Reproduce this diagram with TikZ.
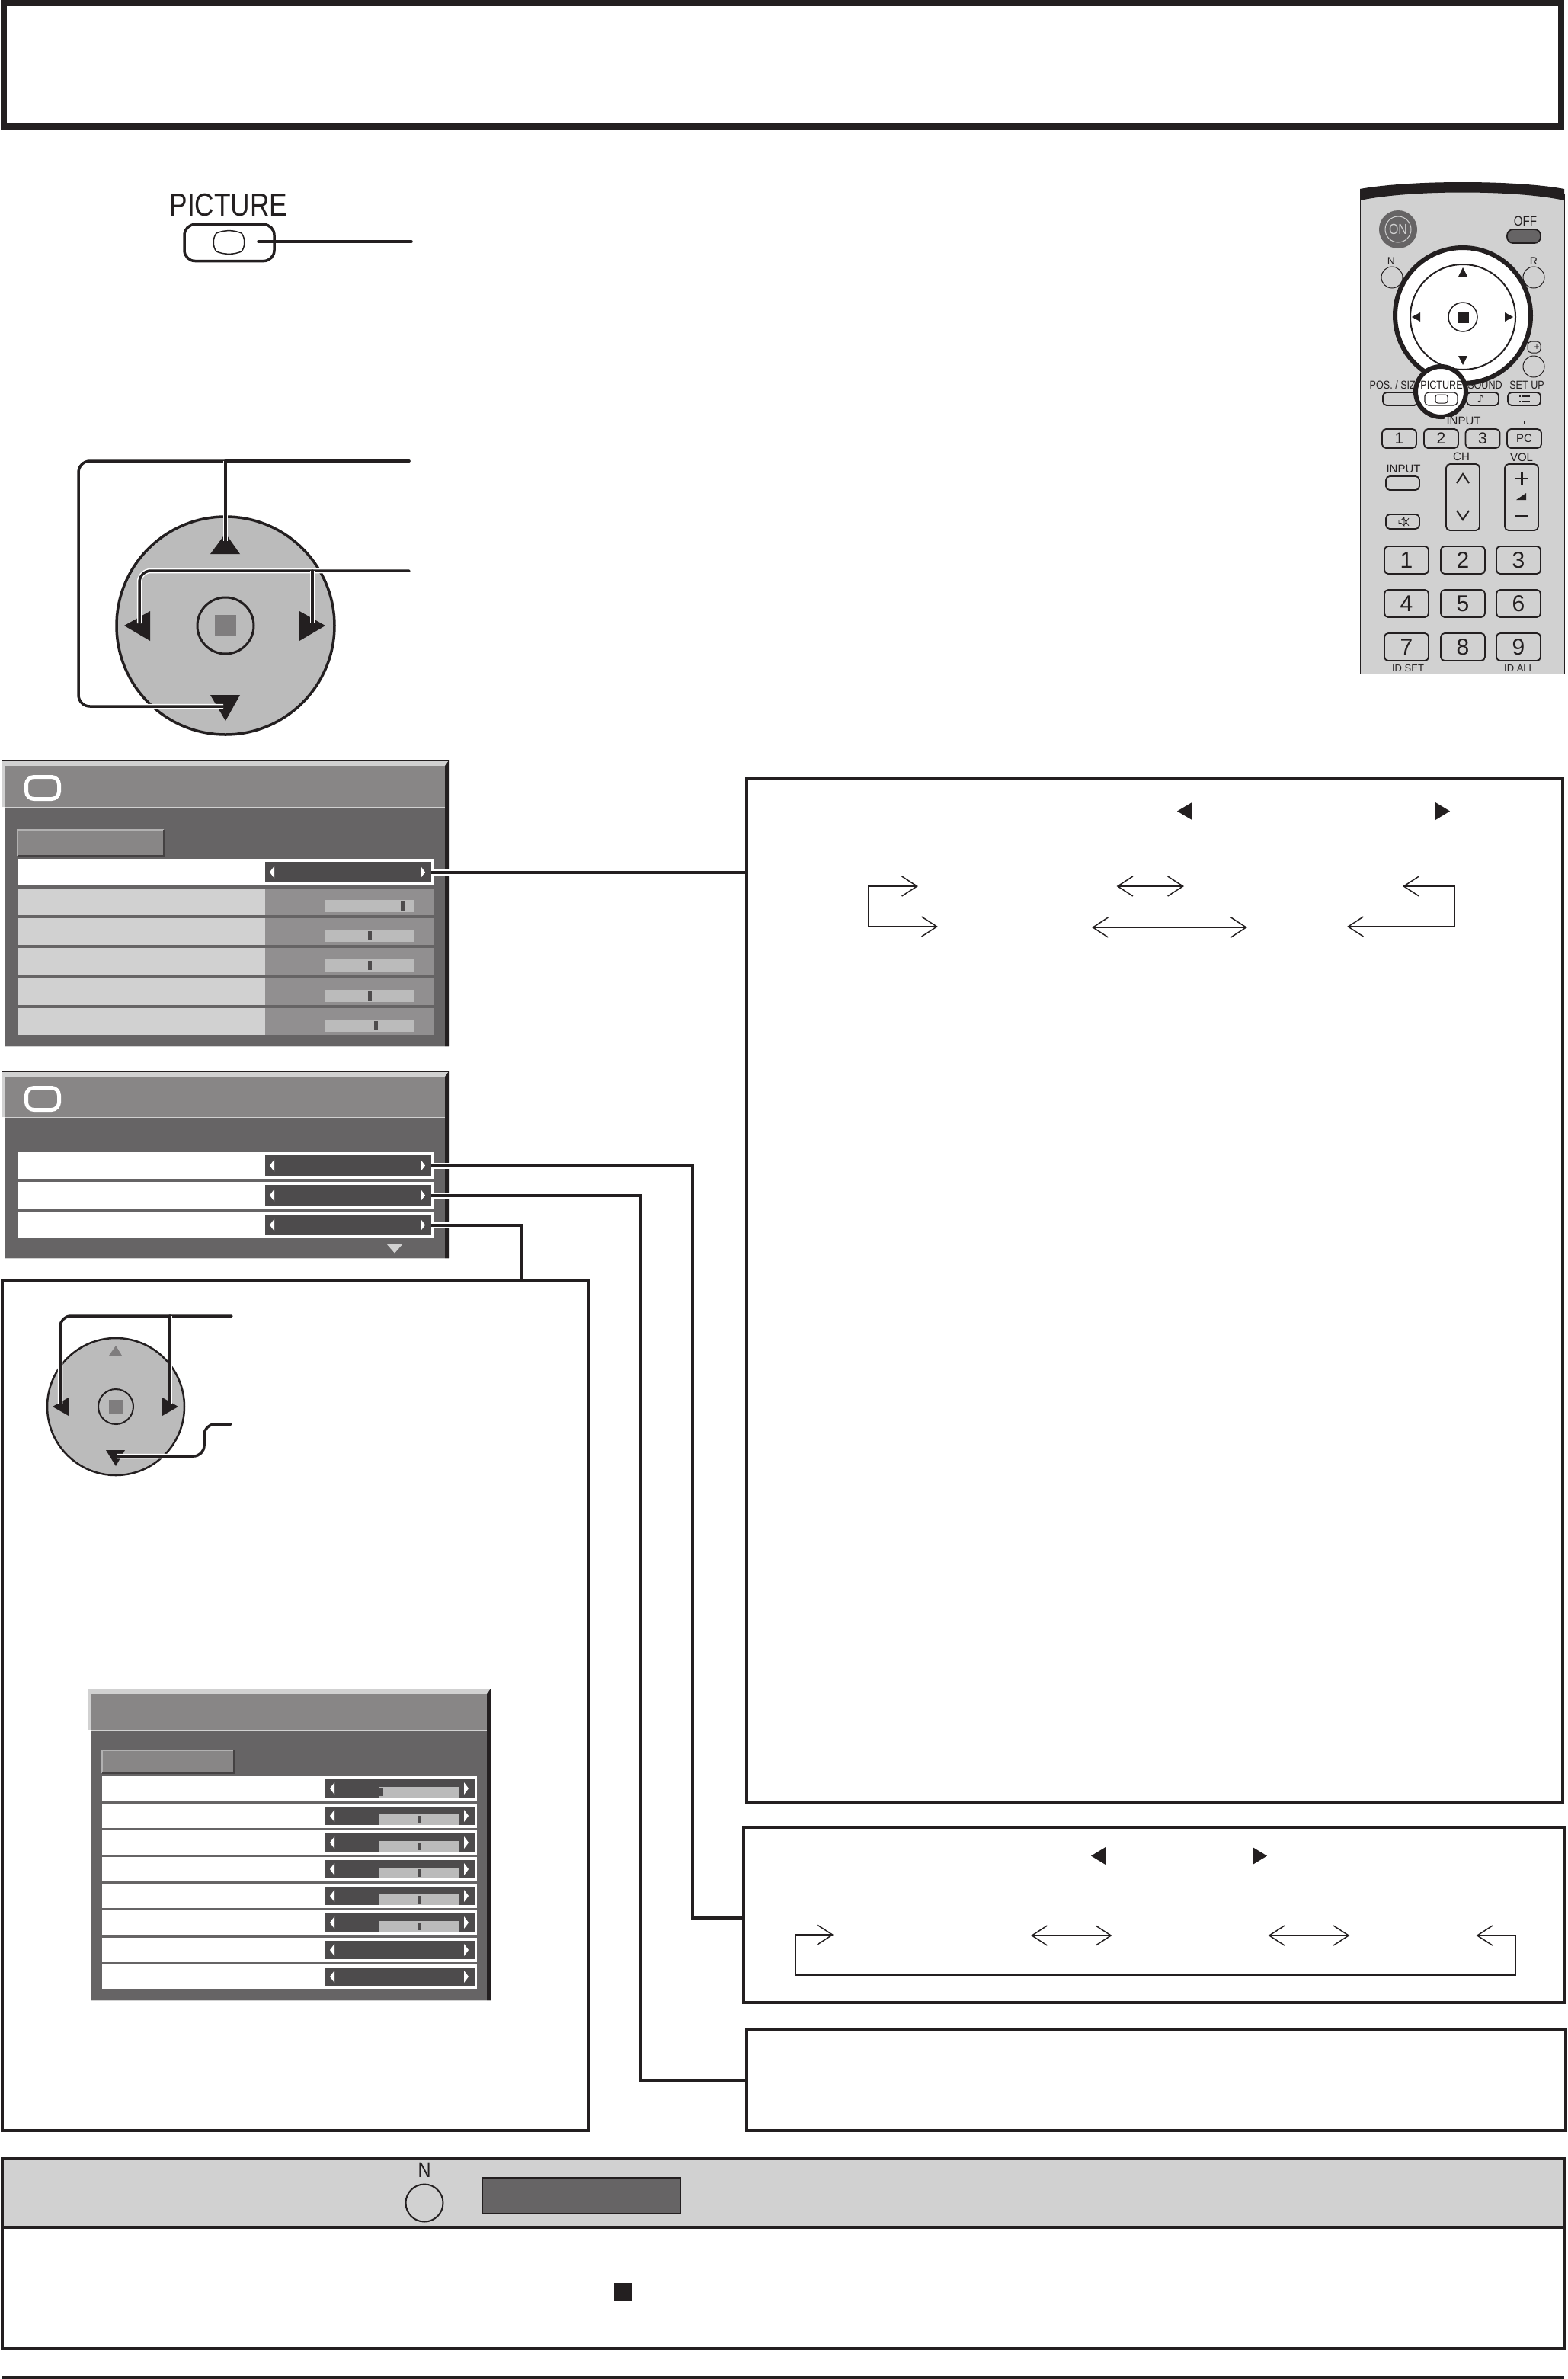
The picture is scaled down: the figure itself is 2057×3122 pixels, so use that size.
\documentclass[tikz,border=0pt]{standalone}
\usepackage{fontspec}
\usepackage{xcolor}
\usetikzlibrary{arrows.meta}
\setmainfont{Liberation Sans}
\newfontfamily\narrowfont[FakeStretch=0.84]{Liberation Sans}
\newfontfamily\symbolfont{DejaVu Sans}
\definecolor{ink}{HTML}{231F20}
\definecolor{panelgrey}{HTML}{D1D1D1}
\definecolor{padgrey}{HTML}{BBBBBB}
\definecolor{titlegrey}{HTML}{888686}
\definecolor{bodygrey}{HTML}{666465}
\definecolor{keydark}{HTML}{4D4B4C}
\definecolor{dimgrey}{HTML}{918F90}
\definecolor{markgrey}{HTML}{7F7D7E}
\tikzset{
  framebox/.style={draw=ink, line width=2pt, inner sep=0pt, outer sep=0pt},
  titlebox/.style={draw=ink, line width=4pt, inner sep=0pt, outer sep=0pt},
  valuebox/.style={fill=keydark, inner sep=0pt, outer sep=0pt},
  wire/.style={draw=ink, line width=2pt, preaction={draw=white, line width=4pt}},
  padwire/.style={draw=ink, line width=1.75pt, line cap=round, preaction={draw=white, line width=3.25pt}},
  flowboth/.style={draw=ink, line width=1pt, {Straight Barb[length=10pt,width=13pt,line width=.75pt]}-{Straight Barb[length=10pt,width=13pt,line width=.75pt]}},
  keybtn/.style={draw=ink, line width=.9pt, rounded corners=2.5pt, fill=panelgrey, inner sep=0pt, outer sep=0pt},
  remotetxt/.style={inner sep=0pt, text=ink, font=\fontsize{7.5}{7.5}\selectfont},
  narrowtxt/.style={inner sep=0pt, text=ink, font=\narrowfont\fontsize{7.5}{7.5}\selectfont}
}
% left, right, top, title bottom, bottom
\newcommand{\menuframe}[5]{
  \fill[bodygrey] (#1+5,#4) rectangle (#2-5,#5);
  \fill[titlegrey] (#1+5,#3+7) rectangle (#2-5,#4);
  \fill[panelgrey] (#1,#3) rectangle (#2,#3+7);
  \fill[panelgrey] (#1,#3) rectangle (#1+5,#4);
  \draw[panelgrey, line width=.4pt] (#1+5,#4) -- (#2-5,#4);
  \draw[panelgrey, line width=.4pt] (#1+5,#5) -- (#2,#5);
  \fill[ink] (#2-5,#3+7) -- (#2,#3) -- (#2,#5) -- (#2-5,#5) -- cycle;
  \draw[ink, line width=.5pt] (#1,#5) -- (#1,#3) -- (#2,#3);
}
\newcommand{\menutab}[4]{
  \fill[titlegrey] (#1,#3) rectangle (#2,#4);
  \draw[markgrey!60!white, line width=1pt] (#1,#4) -- (#1,#3) -- (#2,#3);
  \draw[ink!85, line width=1pt] (#1,#4) -- (#2,#4) -- (#2,#3);
}
\newcommand{\menuicon}[1]{
  \draw[white, line width=2.5pt, rounded corners=5pt, fill=titlegrey] (34.5,#1+2.5) rectangle (77.5,#1+31.5);
}
% name, left, right, top, bottom
\newcommand{\valuekey}[5]{
  \node[valuebox, minimum width={((#3)-(#2))*.5pt}, minimum height={((#5)-(#4))*.5pt}] (#1) at ({(#2+#3)/2},{(#4+#5)/2}) {};
  \fill[white] (#2+12,{(#4+#5)/2-8}) -- (#2+6,{(#4+#5)/2}) -- (#2+12,{(#4+#5)/2+8}) -- cycle;
  \fill[white] (#3-14,{(#4+#5)/2-8}) -- (#3-8,{(#4+#5)/2}) -- (#3-14,{(#4+#5)/2+8}) -- cycle;
}
\begin{document}
\begin{tikzpicture}[x=.5pt, y=-.5pt]
\useasboundingbox (0,0) rectangle (2057,3122);
\fill[white] (0,0) rectangle (2057,3122);

% title
\node[titlebox, minimum width=1022pt, minimum height=81pt] (titlefrm) at (1027,85) {};

% picture button
\node[remotetxt, font=\narrowfont\fontsize{21}{21}\selectfont] (piclabel) at (300,269) {PICTURE};
\node[draw=ink, line width=1.75pt, rounded corners=7pt, minimum width=59pt, minimum height=24pt, inner sep=0pt, outer sep=0pt] (picbtn) at (301,318.5) {};
\draw[ink, line width=.75pt] (284,306) .. controls (295,301.5) and (306,301.5) .. (317,306) .. controls (322,312) and (322,324) .. (317,330) .. controls (306,334.5) and (295,334.5) .. (284,330) .. controls (279,324) and (279,312) .. (284,306) -- cycle;
\coordinate (picin) at (339,317);
\coordinate (picout) at (540,317);
\draw[ink, line width=1.75pt, line cap=round] (picin) -- (picout);

% big cursor pad
\node[circle, draw=ink, fill=padgrey, line width=1.75pt, minimum size=143pt, inner sep=0pt, outer sep=0pt] (bigpad) at (296,821) {};
\fill[ink] (296,700) -- (315,727) -- (276,727) -- cycle;
\fill[ink] (296,946) -- (315,912) -- (276,912) -- cycle;
\fill[ink] (163,821) -- (197,802) -- (197,841) -- cycle;
\fill[ink] (427,821) -- (393,802) -- (393,841) -- cycle;
\node[circle, draw=ink, line width=1.5pt, minimum size=37pt, inner sep=0pt] (bigok) at (296,821) {};
\node[fill=markgrey, minimum size=14pt, inner sep=0pt] (bigmark) at (296,821) {};
\coordinate (updown) at (537,605);
\coordinate (sides) at (537,749);
\coordinate (bigup) at (296,710);
\coordinate (bigdown) at (293,927);
\coordinate (bigleft) at (183,818);
\coordinate (bigright) at (410,818);
\draw[padwire, rounded corners=7.5pt] (updown) -- (103,605) -- (103,927) -- (bigdown);
\draw[padwire] (296,605) -- (bigup);
\draw[padwire, rounded corners=7.5pt] (sides) -- (183,749) -- (bigleft);
\draw[padwire] (410,749) -- (bigright);
\draw[ink, line width=1.75pt, line cap=round] (updown) -- (296,605);

% remote
\fill[panelgrey] (1785,262) .. controls (1850,246) and (1990,246) .. (2053,262) -- (2053,884) -- (1785,884) -- cycle;
\fill[ink] (1785,263) -- (1785,248) .. controls (1850,236) and (1990,236) .. (2053,248) -- (2053,263) .. controls (1990,249) and (1850,249) .. (1785,263) -- cycle;
\draw[ink, line width=.5pt] (1785,255) -- (1785,884);
\draw[ink, line width=.5pt] (2053,255) -- (2053,884);
\node[circle, fill=bodygrey, minimum size=25pt, inner sep=0pt] (onbtn) at (1835,301) {};
\node[circle, draw=panelgrey, line width=.5pt, minimum size=17pt, inner sep=0pt] (onring) at (1835,301) {};
\node[text=panelgrey, inner sep=0pt, font=\narrowfont\fontsize{9.5}{9.5}\selectfont] (onlabel) at (1835,301) {ON};
\node[narrowtxt, font=\narrowfont\fontsize{9}{9}\selectfont] (offlabel) at (2002,290) {OFF};
\node[keybtn, fill=bodygrey, rounded corners=4pt, minimum width=22pt, minimum height=9pt] (offbtn) at (2000,310) {};
\node[remotetxt, font=\fontsize{7}{7}\selectfont] (nlabel) at (1826,343) {N};
\node[remotetxt, font=\fontsize{7}{7}\selectfont] (rlabel) at (2013,343) {R};
\node[circle, draw=ink, line width=.5pt, minimum size=14pt, inner sep=0pt] (nbtn) at (1827,364) {};
\node[circle, draw=ink, line width=.5pt, minimum size=14pt, inner sep=0pt] (rbtn) at (2013,364) {};
\node[keybtn, line width=.5pt, minimum width=8.5pt, minimum height=7.5pt] (plusbtn) at (2013.5,455.5) {};
\node[remotetxt, font=\fontsize{6}{6}\selectfont] (pluslabel) at (2017,456) {+};
\node[circle, draw=ink, line width=.5pt, minimum size=14pt, inner sep=0pt] (plusround) at (2013,481) {};

\node[circle, draw=ink, fill=white, line width=3pt, minimum size=89pt, inner sep=0pt] (ring) at (1920,414) {};
\node[circle, draw=ink, line width=1pt, minimum size=69pt, inner sep=0pt] (ringin) at (1920,416) {};
\node[circle, draw=ink, line width=.75pt, minimum size=19pt, inner sep=0pt] (ringok) at (1920,416) {};
\node[fill=ink, minimum size=7.5pt, inner sep=0pt] (ringmark) at (1920,416) {};
\fill[ink] (1920,351) -- (1926,363) -- (1914,363) -- cycle;
\fill[ink] (1920,479) -- (1926,467) -- (1914,467) -- cycle;
\fill[ink] (1853,416) -- (1864,410) -- (1864,422) -- cycle;
\fill[ink] (1986,416) -- (1975,410) -- (1975,422) -- cycle;

\node[narrowtxt] (poslabel) at (1832,505) {POS. / SIZE};
\node[narrowtxt] (soundlabel) at (1949,505) {SOUND};
\node[narrowtxt] (setuplabel) at (2004,505) {SET UP};
\node[keybtn, minimum width=23pt, minimum height=8.5pt] (posbtn) at (1838,523.5) {};
\node[keybtn, minimum width=21pt, minimum height=8.5pt] (soundbtn) at (1946,523.5) {};
\node[keybtn, minimum width=21.5pt, minimum height=8.5pt] (setupbtn) at (2000.5,523.5) {};
\node[text=ink, inner sep=0pt, font=\symbolfont\fontsize{7}{7}\selectfont] (notelabel) at (1943,523) {♪};
\foreach \y in {520,523.5,527} {
  \draw[ink, line width=.6pt] (1994,\y) -- (1996,\y);
  \draw[ink, line width=.6pt] (1998,\y) -- (2008,\y);
}
\node[circle, draw=ink, fill=white, line width=3pt, minimum size=33pt, inner sep=0pt] (picring) at (1891,514) {};
\node[narrowtxt] (picsmall) at (1892,505) {PICTURE};
\node[keybtn, fill=white, line width=.6pt, minimum width=21.5pt, minimum height=8.5pt] (picsmallbtn) at (1891.5,523.5) {};
\node[draw=ink, line width=.5pt, rounded corners=1.5pt, minimum width=8pt, minimum height=5.5pt, inner sep=0pt] (picsmallin) at (1892,523.5) {};

\node[remotetxt, fill=panelgrey, inner xsep=1pt] (inputhead) at (1921,552) {INPUT};
\draw[ink, line width=.4pt] (inputhead.west) -- (1837,552) -- (1837,556);
\draw[ink, line width=.4pt] (inputhead.east) -- (2000,552) -- (2000,556);
\foreach \lab/\x in {1/1836.5,2/1891.5,3/1946} {
  \node[keybtn, minimum width=22.5pt, minimum height=12.5pt, font=\fontsize{10.5}{10.5}\selectfont, text=ink] (inp\lab) at (\x,575.5) {\lab};
}
\node[keybtn, minimum width=22.5pt, minimum height=12.5pt, font=\fontsize{7.5}{7.5}\selectfont, text=ink] (inppc) at (2000.5,575.5) {PC};
\node[remotetxt] (chlabel) at (1918,599) {CH};
\node[remotetxt] (vollabel) at (1997,600) {VOL};
\node[keybtn, minimum width=22pt, minimum height=43.5pt] (chbtn) at (1920,652.5) {};
\node[keybtn, minimum width=22pt, minimum height=43.5pt] (volbtn) at (1997,652.5) {};
\draw[ink, line width=1pt] (1912,634) -- (1920,622) -- (1928,634);
\draw[ink, line width=1pt] (1912,670) -- (1920,682) -- (1928,670);
\draw[ink, line width=1.25pt] (1989,628) -- (2006,628);
\draw[ink, line width=1.25pt] (1997.5,620) -- (1997.5,636);
\draw[ink, line width=1.25pt] (1989,677.5) -- (2006,677.5);
\fill[ink] (1990,656) -- (2003,647) -- (2003,656) -- cycle;
\node[remotetxt] (inputlabel) at (1842,615) {INPUT};
\node[keybtn, minimum width=22pt, minimum height=9pt] (inputbtn) at (1841,634) {};
\node[keybtn, minimum width=22pt, minimum height=9.5pt] (mutebtn) at (1841,684.5) {};
\draw[ink, line width=.4pt] (1836,682.5) -- (1839,682.5) -- (1843,679) -- (1843,690) -- (1839,686.5) -- (1836,686.5) -- cycle;
\draw[ink, line width=.4pt] (1842,680) -- (1849,690);
\draw[ink, line width=.4pt] (1849,680) -- (1842,690);
\foreach \lab/\x/\y in {1/1846/735,2/1920/735,3/1993/735,4/1846/792,5/1920/792,6/1993/792,7/1846/849,8/1920/849,9/1993/849} {
  \node[keybtn, minimum width=29pt, minimum height=18pt, font=\fontsize{15}{15}\selectfont, text=ink] (num\lab) at (\x,\y) {\lab};
}
\node[remotetxt, font=\fontsize{6.5}{6.5}\selectfont] (idset) at (1848,877) {ID SET};
\node[remotetxt, font=\fontsize{6.5}{6.5}\selectfont] (idall) at (1994,877) {ID ALL};

% first menu
\menuframe{2}{589}{998}{1059}{1373}
\menuicon{1017}
\menutab{23}{215}{1089}{1123}
\fill[white] (23,1127) rectangle (570,1162);
\valuekey{pickey}{348}{566}{1131}{1158}
\foreach \y/\h in {1166/528,1205/485,1244/485,1284/485,1323/493} {
  \fill[panelgrey] (23,\y) rectangle (348,\y+35);
  \fill[dimgrey] (348,\y) rectangle (570,\y+35);
  \fill[padgrey] (426,\y+15) rectangle (544,\y+31);
  \fill[keydark] (\h-2.5,\y+17) rectangle (\h+2.5,\y+29);
}

% second menu
\menuframe{2}{589}{1406}{1466}{1651}
\menuicon{1425}
\foreach \name/\y in {keya/1512,keyb/1551,keyc/1590} {
  \fill[white] (23,\y) rectangle (570,\y+35);
  \valuekey{\name}{348}{566}{\y+4}{\y+31}
}
\fill[panelgrey] (507,1632) -- (529,1632) -- (518,1644.5) -- cycle;

% third menu
\menuframe{115}{644}{2216}{2270}{2625}
\menutab{134}{307}{2297}{2327}
\foreach \y/\h in {2331/500,2367/550,2402/550,2437/550,2472/550,2507/550} {
  \fill[white] (134,\y) rectangle (626,\y+32);
  \valuekey{slide\y}{427}{623}{\y+4}{\y+28}
  \fill[padgrey] (497,\y+14) rectangle (603,\y+28);
  \fill[keydark] (\h-2.5,\y+16) rectangle (\h+2.5,\y+26);
}
\foreach \y in {2543,2578} {
  \fill[white] (134,\y) rectangle (626,\y+32);
  \valuekey{slide\y}{427}{623}{\y+4}{\y+28}
}

% small cursor pad
\node[circle, draw=ink, fill=padgrey, line width=1.25pt, minimum size=90pt, inner sep=0pt, outer sep=0pt] (smallpad) at (152,1846) {};
\fill[markgrey] (152,1766) -- (160,1779) -- (143,1779) -- cycle;
\fill[ink] (152,1924) -- (164,1903) -- (139,1903) -- cycle;
\fill[ink] (69,1846) -- (90,1834) -- (90,1858) -- cycle;
\fill[ink] (234,1846) -- (213,1834) -- (213,1858) -- cycle;
\node[circle, draw=ink, line width=1pt, minimum size=23pt, inner sep=0pt] (smallok) at (152,1846) {};
\node[fill=markgrey, minimum size=9pt, inner sep=0pt] (smallmark) at (152,1846) {};
\coordinate (smallsides) at (304,1727);
\coordinate (smallleft) at (79,1842);
\coordinate (smallright) at (223,1842);
\coordinate (smalldown) at (154,1911);
\coordinate (smallenter) at (303,1869);
\draw[padwire, rounded corners=7pt] (smallsides) -- (79,1727) -- (smallleft);
\draw[padwire] (223,1727) -- (smallright);
\draw[padwire, rounded corners=7pt] (smalldown) -- (268,1911) -- (268,1869) -- (smallenter);

% right hand panels
\node[framebox, minimum width=535.5pt, minimum height=671.5pt] (mainbox) at (1515.5,1693.5) {};
\node[framebox, minimum width=538.5pt, minimum height=115pt] (secondbox) at (1514.5,2513) {};
\node[framebox, minimum width=537.5pt, minimum height=66.5pt] (thirdbox) at (1517.5,2729.5) {};
\node[framebox, minimum width=384.5pt, minimum height=557.5pt] (leftbox) at (387,2238) {};
\coordinate (buscola) at (909,2517);
\coordinate (buscolb) at (841,2730);
\coordinate (leftdrop) at (684,1680);
\draw[wire] (pickey.east) -- (pickey.east -| mainbox.west);
\draw[wire] (keya.east) -| (buscola) -- (buscola -| secondbox.west);
\draw[wire] (keyb.east) -| (buscolb) -- (buscolb -| thirdbox.west);
\draw[wire] (keyc.east) -| (leftdrop);
\draw[ink, line width=2pt] (mainbox.north west) rectangle (mainbox.south east);
\draw[ink, line width=2pt] (secondbox.north west) rectangle (secondbox.south east);
\draw[ink, line width=2pt] (thirdbox.north west) rectangle (thirdbox.south east);
\draw[ink, line width=2pt] (leftbox.north west) rectangle (leftbox.south east);

% arrows of first panel
\fill[ink] (1545,1064.5) -- (1564.5,1053) -- (1564.5,1076) -- cycle;
\fill[ink] (1903,1064.5) -- (1884,1053) -- (1884,1076) -- cycle;
\coordinate (stepa) at (1205,1163);
\coordinate (stepb) at (1231,1216);
\coordinate (stepc) at (1465.5,1163);
\coordinate (stepd) at (1554,1163);
\coordinate (stepe) at (1433,1217);
\coordinate (stepf) at (1637,1217);
\coordinate (stepg) at (1841,1163);
\coordinate (steph) at (1768,1216);
\draw[flowboth] (stepa) -- (1140,1163) -- (1140,1216) -- (stepb);
\draw[flowboth] (stepc) -- (stepd);
\draw[flowboth] (stepe) -- (stepf);
\draw[flowboth] (stepg) -- (1908.5,1163) -- (1908.5,1216) -- (steph);

% arrows of second panel
\fill[ink] (1432,2435.5) -- (1451,2424) -- (1451,2447) -- cycle;
\fill[ink] (1663,2435.5) -- (1644,2424) -- (1644,2447) -- cycle;
\coordinate (cyclea) at (1094,2539);
\coordinate (cycleb) at (1353,2540);
\coordinate (cyclec) at (1459.5,2540);
\coordinate (cycled) at (1664.5,2540);
\coordinate (cyclee) at (1771.5,2540);
\coordinate (cyclef) at (1937.5,2540);
\draw[flowboth] (cyclea) -- (1044,2539) -- (1044,2592) -- (1988.5,2592) -- (1988.5,2540) -- (cyclef);
\draw[flowboth] (cycleb) -- (cyclec);
\draw[flowboth] (cycled) -- (cyclee);

% bottom band
\fill[panelgrey] (3,2833) rectangle (2053,2923);
\node[framebox, minimum width=1025pt, minimum height=124.5pt] (notebox) at (1028,2957.5) {};
\draw[ink, line width=2pt] (3,2923) -- (2053,2923);
\node[remotetxt, font=\narrowfont\fontsize{14}{14}\selectfont] (bandn) at (557,2848) {N};
\node[circle, draw=ink, line width=1pt, minimum size=24.5pt, inner sep=0pt] (bandbtn) at (557,2891) {};
\node[draw=ink, fill=bodygrey, line width=.75pt, minimum width=130pt, minimum height=23.5pt, inner sep=0pt] (bandbar) at (763,2881.5) {};
\node[fill=ink, minimum size=11.5pt, inner sep=0pt] (notemark) at (817.5,3007.5) {};
\draw[ink, line width=2pt] (3,3120) -- (2053,3120);
\end{tikzpicture}
\end{document}
